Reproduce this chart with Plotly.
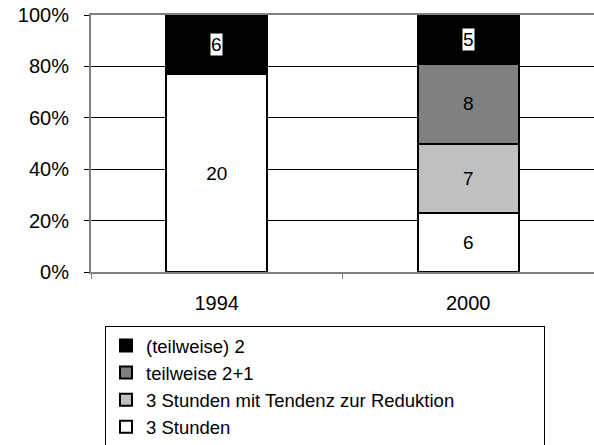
import plotly.graph_objects as go

years = ["1994", "2000"]
series_names = ["3 Stunden", "3 Stunden mit Tendenz zur Reduktion", "teilweise 2+1", "(teilweise) 2"]
drei_stunden = [20, 6]
drei_tendenz = [0, 7]
teilweise_2_1 = [0, 8]
teilweise_2 = [6, 5]
series_values = [drei_stunden, drei_tendenz, teilweise_2_1, teilweise_2]
colors = ["#FFFFFF", "#C0C0C0", "#808080", "#000000"]
y_ticks = [0, 20, 40, 60, 80, 100]
y_tick_labels = ["0%", "20%", "40%", "60%", "80%", "100%"]

totals = [sum(s[i] for s in series_values) for i in range(len(years))]
pcts = [[v / totals[i] * 100 for i, v in enumerate(s)] for s in series_values]

FONT = "Liberation Sans, Arial, sans-serif"
LABEL_SIZE = 19
fig = go.Figure()
annotations = []
for k, (name, vals, pc, col) in enumerate(zip(series_names, series_values, pcts, colors)):
    is_black = col == "#000000"
    fig.add_trace(go.Bar(
        x=years, y=pc, name=name,
        marker=dict(color=col, line=dict(color="black", width=2)),
        text=[str(v) if (v > 0 and not is_black) else "" for v in vals],
        textposition="inside", insidetextanchor="middle",
        textfont=dict(color="black", size=LABEL_SIZE, family=FONT),
        hoverinfo="skip",
    ))
    if is_black:
        for i, v in enumerate(vals):
            if v > 0:
                base = sum(pcts[j][i] for j in range(k))
                annotations.append(dict(
                    x=i, y=base + pc[i] / 2, xref="x", yref="y",
                    text=str(v), showarrow=False, bgcolor="white",
                    font=dict(color="black", size=LABEL_SIZE, family=FONT),
                    borderpad=0,
                ))

PLOT_W = 594 - 91 - 0
fig.update_layout(
    barmode="stack",
    bargap=0.6,
    width=594, height=445,
    margin=dict(l=91, r=0, t=15, b=173, autoexpand=False),
    plot_bgcolor="white", paper_bgcolor="white",
    font=dict(family=FONT, size=20, color="black"),
    showlegend=True,
    legend=dict(
        orientation="h",
        traceorder="reversed",
        x=(105 - 91) / PLOT_W, xanchor="left", y=-(326 - 272) / 257, yanchor="top",
        bordercolor="black", borderwidth=1,
        font=dict(size=18.5, family=FONT),
        itemwidth=30, tracegroupgap=0,
        entrywidth=393, entrywidthmode="pixels",
    ),
    annotations=annotations,
)
fig.update_xaxes(
    type="category", range=[-0.5, 1.5], tickson="boundaries", ticks="outside", ticklen=5,
    tickcolor="#808080", showline=True, linecolor="#808080", linewidth=2,
    mirror=True, showgrid=False, tickfont=dict(size=20), ticklabelstandoff=12,
)
fig.update_yaxes(
    range=[0, 100], tickvals=y_ticks, ticktext=y_tick_labels,
    ticks="outside", ticklen=5, tickcolor="black",
    showgrid=True, gridcolor="black", gridwidth=1,
    showline=True, linecolor="#808080", linewidth=2, mirror=True,
    zeroline=False, tickfont=dict(size=20), ticklabelstandoff=11,
)
fig.write_html("out.html", config={"displayModeBar": False},
               post_script="document.body.style.margin='0';")
